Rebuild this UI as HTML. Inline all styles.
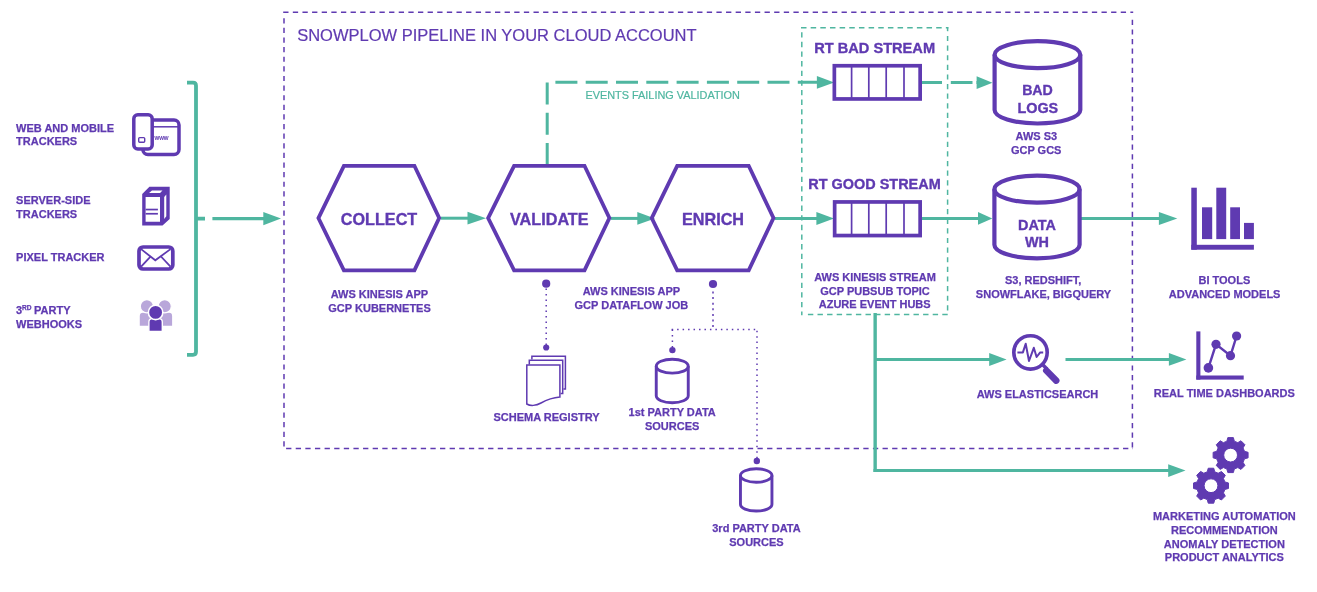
<!DOCTYPE html>
<html><head><meta charset="utf-8"><title>Snowplow pipeline</title>
<style>
html,body{margin:0;padding:0;background:#fff;width:1317px;height:592px;overflow:hidden}
svg{display:block;will-change:transform;font-family:"Liberation Sans",sans-serif}
</style></head><body>
<svg width="1317" height="592" viewBox="0 0 1317 592">
<line x1="283.2" y1="12.2" x2="1133.2" y2="12.2" stroke="#5F3AB1" stroke-width="1.5" stroke-dasharray="5.3 4.327"/>
<line x1="1132.4" y1="19.8" x2="1132.4" y2="449" stroke="#5F3AB1" stroke-width="1.5" stroke-dasharray="5.2 4.400"/>
<line x1="286.1" y1="448.5" x2="1133" y2="448.5" stroke="#5F3AB1" stroke-width="1.5" stroke-dasharray="5.3 4.320"/>
<line x1="284" y1="18.2" x2="284" y2="449" stroke="#5F3AB1" stroke-width="1.5" stroke-dasharray="5.2 4.416"/>
<text x="297.2" y="40.5" font-size="16.5" font-weight="normal" text-anchor="start" fill="#5F3AB1" stroke="#5F3AB1" stroke-width="0.2">SNOWPLOW PIPELINE IN YOUR CLOUD ACCOUNT</text>
<line x1="801" y1="27.8" x2="948.4" y2="27.8" stroke="#4FB6A0" stroke-width="1.5" stroke-dasharray="5.5 4.157"/>
<line x1="947.6" y1="27.2" x2="947.6" y2="31.2" stroke="#4FB6A0" stroke-width="1.5" stroke-dasharray="5 4.000"/>
<line x1="947.6" y1="35.9" x2="947.6" y2="314.5" stroke="#4FB6A0" stroke-width="1.5" stroke-dasharray="5.2 4.420"/>
<line x1="801.8" y1="32.2" x2="801.8" y2="315.2" stroke="#4FB6A0" stroke-width="1.5" stroke-dasharray="5.3 4.332"/>
<line x1="807.9" y1="314.5" x2="948.4" y2="314.5" stroke="#4FB6A0" stroke-width="1.5" stroke-dasharray="5.4 4.200"/>
<text x="16.1" y="131.7" font-size="11" font-weight="bold" text-anchor="start" fill="#5F3AB1" stroke="#5F3AB1" stroke-width="0.25">WEB AND MOBILE</text>
<text x="16.1" y="144.9" font-size="11" font-weight="bold" text-anchor="start" fill="#5F3AB1" stroke="#5F3AB1" stroke-width="0.25">TRACKERS</text>
<text x="16.1" y="203.9" font-size="11" font-weight="bold" text-anchor="start" fill="#5F3AB1" stroke="#5F3AB1" stroke-width="0.25">SERVER-SIDE</text>
<text x="16.1" y="217.5" font-size="11" font-weight="bold" text-anchor="start" fill="#5F3AB1" stroke="#5F3AB1" stroke-width="0.25">TRACKERS</text>
<text x="16.1" y="260.8" font-size="11" font-weight="bold" text-anchor="start" fill="#5F3AB1" stroke="#5F3AB1" stroke-width="0.25">PIXEL TRACKER</text>
<text x="16.1" y="328.3" font-size="11" font-weight="bold" text-anchor="start" fill="#5F3AB1" stroke="#5F3AB1" stroke-width="0.25">WEBHOOKS</text>
<text x="15.9" y="313.9" font-size="11" font-weight="bold" fill="#5F3AB1" stroke="#5F3AB1" stroke-width="0.25">3<tspan font-size="6.6" dy="-4.2">RD</tspan><tspan dy="4.2" dx="-0.6"> PARTY</tspan></text>
<path d="M187,82.7 H193 Q196,82.7 196,85.7 V351.8 Q196,354.8 193,354.8 H187 M196,218.6 H205" fill="none" stroke="#4FB6A0" stroke-width="3.8"/>
<line x1="212.4" y1="218.6" x2="265" y2="218.6" stroke="#4FB6A0" stroke-width="3.3"/>
<polygon points="263.3,211.9 281,218.6 263.3,225.29999999999998" fill="#4FB6A0"/>
<line x1="441" y1="218.2" x2="469" y2="218.2" stroke="#4FB6A0" stroke-width="3"/>
<polygon points="467.5,211.79999999999998 486,218.2 467.5,224.6" fill="#4FB6A0"/>
<line x1="611" y1="218.4" x2="639" y2="218.4" stroke="#4FB6A0" stroke-width="3"/>
<polygon points="637.3,212.0 655,218.4 637.3,224.8" fill="#4FB6A0"/>
<line x1="775" y1="218.5" x2="818" y2="218.5" stroke="#4FB6A0" stroke-width="3"/>
<polygon points="816.4,212.1 834,218.5 816.4,224.9" fill="#4FB6A0"/>
<path d="M547.2,165 V82.3 H818" fill="none" stroke="#4FB6A0" stroke-width="3" stroke-dasharray="22 8.3"/>
<polygon points="816.9,76.0 834.2,82.4 816.9,88.80000000000001" fill="#4FB6A0"/>
<text x="585.4" y="98.6" font-size="10.9" font-weight="normal" text-anchor="start" fill="#4FB6A0" stroke="#4FB6A0" stroke-width="0.2">EVENTS FAILING VALIDATION</text>
<path d="M922,82.5 H978" fill="none" stroke="#4FB6A0" stroke-width="3" stroke-dasharray="20 8.8 21.7 4 30"/>
<polygon points="976.6,76.3 992.5,82.7 976.6,89.10000000000001" fill="#4FB6A0"/>
<line x1="922" y1="218.4" x2="979" y2="218.4" stroke="#4FB6A0" stroke-width="3"/>
<polygon points="978,212.0 992.3,218.4 978,224.8" fill="#4FB6A0"/>
<line x1="1081" y1="218.4" x2="1160" y2="218.4" stroke="#4FB6A0" stroke-width="3"/>
<polygon points="1158.9,212.1 1177.3,218.5 1158.9,224.9" fill="#4FB6A0"/>
<line x1="875.15" y1="313" x2="875.15" y2="472" stroke="#4FB6A0" stroke-width="3.4"/>
<line x1="875" y1="359.5" x2="990" y2="359.5" stroke="#4FB6A0" stroke-width="3"/>
<polygon points="989.2,353.1 1006.6,359.5 989.2,365.9" fill="#4FB6A0"/>
<line x1="1065.5" y1="359.5" x2="1170" y2="359.5" stroke="#4FB6A0" stroke-width="3"/>
<polygon points="1168.9,353.0 1186.4,359.4 1168.9,365.79999999999995" fill="#4FB6A0"/>
<line x1="873.5" y1="470.5" x2="1170" y2="470.5" stroke="#4FB6A0" stroke-width="3"/>
<polygon points="1168.2,464.20000000000005 1185.5,470.6 1168.2,477.0" fill="#4FB6A0"/>
<polygon points="318.42,218.05 343.89,165.80 414.41,165.80 439.18,218.05 414.41,270.30 343.89,270.30" fill="none" stroke="#5F3AB1" stroke-width="3.8" stroke-linejoin="miter"/>
<polygon points="488.12,218.05 514.09,165.80 584.51,165.80 609.38,218.05 584.51,270.30 514.09,270.30" fill="none" stroke="#5F3AB1" stroke-width="3.8" stroke-linejoin="miter"/>
<polygon points="651.72,218.05 677.19,165.80 748.71,165.80 773.48,218.05 748.71,270.30 677.19,270.30" fill="none" stroke="#5F3AB1" stroke-width="3.8" stroke-linejoin="miter"/>
<text x="379.0" y="224.7" font-size="16.2" font-weight="bold" text-anchor="middle" fill="#5F3AB1" stroke="#5F3AB1" stroke-width="0.35">COLLECT</text>
<text x="549.3" y="224.7" font-size="16.2" font-weight="bold" text-anchor="middle" fill="#5F3AB1" stroke="#5F3AB1" stroke-width="0.35">VALIDATE</text>
<text x="713" y="224.7" font-size="16.2" font-weight="bold" text-anchor="middle" fill="#5F3AB1" stroke="#5F3AB1" stroke-width="0.35">ENRICH</text>
<rect x="834.35" y="65.75" width="85.80" height="33.20" fill="#fff" stroke="#5F3AB1" stroke-width="3.7"/>
<line x1="851.6" y1="65.75" x2="851.6" y2="98.95" stroke="#5F3AB1" stroke-width="1.7"/>
<line x1="868.8" y1="65.75" x2="868.8" y2="98.95" stroke="#5F3AB1" stroke-width="1.7"/>
<line x1="886.2" y1="65.75" x2="886.2" y2="98.95" stroke="#5F3AB1" stroke-width="1.7"/>
<line x1="904" y1="65.75" x2="904" y2="98.95" stroke="#5F3AB1" stroke-width="1.7"/>
<rect x="834.65" y="201.95" width="85.50" height="33.60" fill="#fff" stroke="#5F3AB1" stroke-width="3.7"/>
<line x1="851.6" y1="201.95" x2="851.6" y2="235.55" stroke="#5F3AB1" stroke-width="1.7"/>
<line x1="868.8" y1="201.95" x2="868.8" y2="235.55" stroke="#5F3AB1" stroke-width="1.7"/>
<line x1="886.2" y1="201.95" x2="886.2" y2="235.55" stroke="#5F3AB1" stroke-width="1.7"/>
<line x1="904" y1="201.95" x2="904" y2="235.55" stroke="#5F3AB1" stroke-width="1.7"/>
<text x="874.65" y="52.9" font-size="14.6" font-weight="bold" text-anchor="middle" fill="#5F3AB1" stroke="#5F3AB1" stroke-width="0.35">RT BAD STREAM</text>
<text x="874.5" y="188.8" font-size="14.45" font-weight="bold" text-anchor="middle" fill="#5F3AB1" stroke="#5F3AB1" stroke-width="0.35">RT GOOD STREAM</text>
<text x="875" y="281.2" font-size="11" font-weight="bold" text-anchor="middle" fill="#5F3AB1" stroke="#5F3AB1" stroke-width="0.25">AWS KINESIS STREAM</text>
<text x="875" y="294.7" font-size="11" font-weight="bold" text-anchor="middle" fill="#5F3AB1" stroke="#5F3AB1" stroke-width="0.25">GCP PUBSUB TOPIC</text>
<text x="874.7" y="307.7" font-size="11" font-weight="bold" text-anchor="middle" fill="#5F3AB1" stroke="#5F3AB1" stroke-width="0.25">AZURE EVENT HUBS</text>
<ellipse cx="1037.45" cy="54.65" rx="42.85" ry="13.45" fill="none" stroke="#5F3AB1" stroke-width="4.2"/>
<path d="M994.60,54.65 V110.05 A42.85,13.45 0 0 0 1080.30,110.05 V54.65" fill="none" stroke="#5F3AB1" stroke-width="4.2"/>
<ellipse cx="1037.00" cy="189.20" rx="42.60" ry="13.50" fill="none" stroke="#5F3AB1" stroke-width="4.2"/>
<path d="M994.40,189.20 V244.80 A42.60,13.50 0 0 0 1079.60,244.80 V189.20" fill="none" stroke="#5F3AB1" stroke-width="4.2"/>
<text x="1037.5" y="95" font-size="14.2" font-weight="bold" text-anchor="middle" fill="#5F3AB1" stroke="#5F3AB1" stroke-width="0.35">BAD</text>
<text x="1037.8" y="112.6" font-size="14.4" font-weight="bold" text-anchor="middle" fill="#5F3AB1" stroke="#5F3AB1" stroke-width="0.35">LOGS</text>
<text x="1036.35" y="140" font-size="11" font-weight="bold" text-anchor="middle" fill="#5F3AB1" stroke="#5F3AB1" stroke-width="0.25">AWS S3</text>
<text x="1036.15" y="153.7" font-size="11" font-weight="bold" text-anchor="middle" fill="#5F3AB1" stroke="#5F3AB1" stroke-width="0.25">GCP GCS</text>
<text x="1037" y="229.9" font-size="14.4" font-weight="bold" text-anchor="middle" fill="#5F3AB1" stroke="#5F3AB1" stroke-width="0.35">DATA</text>
<text x="1037" y="247.1" font-size="14.4" font-weight="bold" text-anchor="middle" fill="#5F3AB1" stroke="#5F3AB1" stroke-width="0.35">WH</text>
<text x="1043.15" y="284.3" font-size="11" font-weight="bold" text-anchor="middle" fill="#5F3AB1" stroke="#5F3AB1" stroke-width="0.25">S3, REDSHIFT,</text>
<text x="1043.5" y="298" font-size="11" font-weight="bold" text-anchor="middle" fill="#5F3AB1" stroke="#5F3AB1" stroke-width="0.25">SNOWFLAKE, BIGQUERY</text>
<text x="379.45" y="297.8" font-size="11" font-weight="bold" text-anchor="middle" fill="#5F3AB1" stroke="#5F3AB1" stroke-width="0.25">AWS KINESIS APP</text>
<text x="379.55" y="311.9" font-size="11" font-weight="bold" text-anchor="middle" fill="#5F3AB1" stroke="#5F3AB1" stroke-width="0.25">GCP KUBERNETES</text>
<text x="631.4" y="295.2" font-size="11" font-weight="bold" text-anchor="middle" fill="#5F3AB1" stroke="#5F3AB1" stroke-width="0.25">AWS KINESIS APP</text>
<text x="631.4" y="309.2" font-size="11" font-weight="bold" text-anchor="middle" fill="#5F3AB1" stroke="#5F3AB1" stroke-width="0.25">GCP DATAFLOW JOB</text>
<circle cx="546.2" cy="283.7" r="4.1" fill="#5F3AB1"/>
<line x1="546.2" y1="288.4" x2="546.2" y2="346" stroke="#5F3AB1" stroke-width="1.5" stroke-dasharray="1.6 3.9"/>
<circle cx="546.2" cy="347.5" r="3.1" fill="#5F3AB1"/>
<circle cx="713" cy="284" r="4.1" fill="#5F3AB1"/>
<path d="M713,291.5 V329.6" fill="none" stroke="#5F3AB1" stroke-width="1.5" stroke-dasharray="2 3.6"/>
<path d="M671.65,329.6 H757" fill="none" stroke="#5F3AB1" stroke-width="1.5" stroke-dasharray="1.5 3.97"/>
<path d="M757,330.65 V458" fill="none" stroke="#5F3AB1" stroke-width="1.5" stroke-dasharray="1.5 3.98"/>
<path d="M672.4,329.6 V348" fill="none" stroke="#5F3AB1" stroke-width="1.5" stroke-dasharray="1.5 4"/>
<circle cx="672.4" cy="350.1" r="3.2" fill="#5F3AB1"/>
<circle cx="756.8" cy="461" r="3.2" fill="#5F3AB1"/>
<g fill="#fff" stroke="#5F3AB1" stroke-width="1.5"><path d="M531.9,359.6 V356.3 H565.4 V388.9 H563.4"/><path d="M529.3,364.4 V360.3 H562.7 V393.4 H560.6"/><path d="M526.8,404 V365.1 H559.9 V397 C553,397.5 548,399 541,403 C536,406 530,406 526.8,404 Z"/></g>
<text x="546.5" y="421.2" font-size="11" font-weight="bold" text-anchor="middle" fill="#5F3AB1" stroke="#5F3AB1" stroke-width="0.25">SCHEMA REGISTRY</text>
<ellipse cx="672.25" cy="366.20" rx="16.00" ry="6.95" fill="none" stroke="#5F3AB1" stroke-width="2.9"/>
<path d="M656.25,366.20 V395.80 A16.00,6.95 0 0 0 688.25,395.80 V366.20" fill="none" stroke="#5F3AB1" stroke-width="2.9"/>
<text x="672.15" y="415.5" font-size="11" font-weight="bold" text-anchor="middle" fill="#5F3AB1" stroke="#5F3AB1" stroke-width="0.25">1st PARTY DATA</text>
<text x="672.15" y="430.3" font-size="11" font-weight="bold" text-anchor="middle" fill="#5F3AB1" stroke="#5F3AB1" stroke-width="0.25">SOURCES</text>
<ellipse cx="756.20" cy="475.50" rx="15.75" ry="6.75" fill="none" stroke="#5F3AB1" stroke-width="2.9"/>
<path d="M740.45,475.50 V504.30 A15.75,6.75 0 0 0 771.95,504.30 V475.50" fill="none" stroke="#5F3AB1" stroke-width="2.9"/>
<text x="756.45" y="532" font-size="11" font-weight="bold" text-anchor="middle" fill="#5F3AB1" stroke="#5F3AB1" stroke-width="0.25">3rd PARTY DATA</text>
<text x="756.45" y="546.2" font-size="11" font-weight="bold" text-anchor="middle" fill="#5F3AB1" stroke="#5F3AB1" stroke-width="0.25">SOURCES</text>
<circle cx="1030.5" cy="352.4" r="16.7" fill="none" stroke="#5F3AB1" stroke-width="3.6"/>
<line x1="1042" y1="364" x2="1047" y2="369" stroke="#5F3AB1" stroke-width="3.6"/>
<line x1="1046.3" y1="370.5" x2="1056.2" y2="380.6" stroke="#5F3AB1" stroke-width="6.6" stroke-linecap="round"/>
<polyline points="1017.4,352.4 1022.9,352.4 1025.7,343.7 1029,361 1033.8,347.8 1036.6,357 1040.2,352.4 1043.2,352.4" fill="none" stroke="#5F3AB1" stroke-width="2" stroke-linejoin="round"/>
<text x="1037.5" y="397.6" font-size="11" font-weight="bold" text-anchor="middle" fill="#5F3AB1" stroke="#5F3AB1" stroke-width="0.25">AWS ELASTICSEARCH</text>
<g fill="#5F3AB1"><rect x="1191.3" y="187.7" width="5.5" height="62"/><rect x="1191.3" y="244.8" width="62.6" height="4.9"/><rect x="1202" y="207.3" width="10.2" height="31.8"/><rect x="1216.3" y="187.7" width="9.9" height="51.4"/><rect x="1230.2" y="207.3" width="9.8" height="31.8"/><rect x="1244" y="222.9" width="9.9" height="16.2"/></g>
<text x="1224.35" y="283.7" font-size="11" font-weight="bold" text-anchor="middle" fill="#5F3AB1" stroke="#5F3AB1" stroke-width="0.25">BI TOOLS</text>
<text x="1224.65" y="297.6" font-size="11" font-weight="bold" text-anchor="middle" fill="#5F3AB1" stroke="#5F3AB1" stroke-width="0.25">ADVANCED MODELS</text>
<g fill="#5F3AB1"><rect x="1196.3" y="331.4" width="4.1" height="48.2"/><rect x="1196.3" y="375.5" width="47.4" height="4.1"/><circle cx="1208.4" cy="367.9" r="4.8"/><circle cx="1216" cy="344.3" r="4.6"/><circle cx="1230.5" cy="355.7" r="4.6"/><circle cx="1236.6" cy="336" r="4.6"/></g>
<polyline points="1208.4,367.9 1216,344.3 1230.5,355.7 1236.6,336" fill="none" stroke="#5F3AB1" stroke-width="2.4"/>
<text x="1224.35" y="396.8" font-size="11" font-weight="bold" text-anchor="middle" fill="#5F3AB1" stroke="#5F3AB1" stroke-width="0.25">REAL TIME DASHBOARDS</text>
<path d="M1207.27,471.79 L1208.23,468.22 L1213.77,468.22 L1214.73,471.79 L1218.20,473.23 L1221.40,471.38 L1225.32,475.30 L1223.47,478.50 L1224.91,481.97 L1228.48,482.93 L1228.48,488.47 L1224.91,489.43 L1223.47,492.90 L1225.32,496.10 L1221.40,500.02 L1218.20,498.17 L1214.73,499.61 L1213.77,503.18 L1208.23,503.18 L1207.27,499.61 L1203.80,498.17 L1200.60,500.02 L1196.68,496.10 L1198.53,492.90 L1197.09,489.43 L1193.52,488.47 L1193.52,482.93 L1197.09,481.97 L1198.53,478.50 L1196.68,475.30 L1200.60,471.38 L1203.80,473.23 Z M1217.90,485.70 A6.9,6.9 0 1 0 1204.10,485.70 A6.9,6.9 0 1 0 1217.90,485.70 Z" fill="#5F3AB1" fill-rule="evenodd" stroke="#5F3AB1" stroke-width="1" stroke-linejoin="round"/>
<path d="M1226.87,441.19 L1227.83,437.62 L1233.37,437.62 L1234.33,441.19 L1237.80,442.63 L1241.00,440.78 L1244.92,444.70 L1243.07,447.90 L1244.51,451.37 L1248.08,452.33 L1248.08,457.87 L1244.51,458.83 L1243.07,462.30 L1244.92,465.50 L1241.00,469.42 L1237.80,467.57 L1234.33,469.01 L1233.37,472.58 L1227.83,472.58 L1226.87,469.01 L1223.40,467.57 L1220.20,469.42 L1216.28,465.50 L1218.13,462.30 L1216.69,458.83 L1213.12,457.87 L1213.12,452.33 L1216.69,451.37 L1218.13,447.90 L1216.28,444.70 L1220.20,440.78 L1223.40,442.63 Z M1237.50,455.10 A6.9,6.9 0 1 0 1223.70,455.10 A6.9,6.9 0 1 0 1237.50,455.10 Z" fill="#fff" stroke="#fff" stroke-width="3.5" stroke-linejoin="round"/>
<path d="M1226.87,441.19 L1227.83,437.62 L1233.37,437.62 L1234.33,441.19 L1237.80,442.63 L1241.00,440.78 L1244.92,444.70 L1243.07,447.90 L1244.51,451.37 L1248.08,452.33 L1248.08,457.87 L1244.51,458.83 L1243.07,462.30 L1244.92,465.50 L1241.00,469.42 L1237.80,467.57 L1234.33,469.01 L1233.37,472.58 L1227.83,472.58 L1226.87,469.01 L1223.40,467.57 L1220.20,469.42 L1216.28,465.50 L1218.13,462.30 L1216.69,458.83 L1213.12,457.87 L1213.12,452.33 L1216.69,451.37 L1218.13,447.90 L1216.28,444.70 L1220.20,440.78 L1223.40,442.63 Z M1237.50,455.10 A6.9,6.9 0 1 0 1223.70,455.10 A6.9,6.9 0 1 0 1237.50,455.10 Z" fill="#5F3AB1" fill-rule="evenodd" stroke="#5F3AB1" stroke-width="1" stroke-linejoin="round"/>
<text x="1224.35" y="520" font-size="11" font-weight="bold" text-anchor="middle" fill="#5F3AB1" stroke="#5F3AB1" stroke-width="0.25">MARKETING AUTOMATION</text>
<text x="1224.35" y="533.9" font-size="11" font-weight="bold" text-anchor="middle" fill="#5F3AB1" stroke="#5F3AB1" stroke-width="0.25">RECOMMENDATION</text>
<text x="1224.35" y="547.5" font-size="11" font-weight="bold" text-anchor="middle" fill="#5F3AB1" stroke="#5F3AB1" stroke-width="0.25">ANOMALY DETECTION</text>
<text x="1224.35" y="560.9" font-size="11" font-weight="bold" text-anchor="middle" fill="#5F3AB1" stroke="#5F3AB1" stroke-width="0.25">PRODUCT ANALYTICS</text>
<g fill="none" stroke="#5F3AB1"><rect x="142.9" y="120" width="36.1" height="34.4" rx="5" stroke-width="3.5"/><line x1="152" y1="126.8" x2="178" y2="126.8" stroke-width="1.5"/></g>
<rect x="133.8" y="114.8" width="18.4" height="34.1" rx="4" fill="#fff" stroke="#5F3AB1" stroke-width="3.5"/>
<rect x="138.7" y="137.6" width="6" height="4.6" rx="1" fill="none" stroke="#5F3AB1" stroke-width="1.4"/>
<text x="161.5" y="139.7" font-size="6.5" text-anchor="middle" fill="#5F3AB1" stroke="#5F3AB1" stroke-width="0.2">www</text>
<path d="M142.2,193.9 L149.4,186.8 H169.7 V218.9 L162.5,225.6 H142.2 Z M145.6,196.9 V221.8 H160 V196.9 Z M149,193.1 L152,190.6 H162.5 L160,193.1 Z M164.2,196.9 L166.3,194.4 V216.3 L164.2,218.9 Z" fill="#5F3AB1" fill-rule="evenodd"/>
<rect x="145.6" y="208.7" width="12.3" height="1.7" fill="#5F3AB1"/><rect x="145.6" y="212.9" width="12.3" height="1.7" fill="#5F3AB1"/>
<rect x="139" y="247" width="33.8" height="22" rx="4" fill="none" stroke="#5F3AB1" stroke-width="3.7"/>
<polyline points="141.1,249.1 155.3,260.3 170.5,249.1" fill="none" stroke="#5F3AB1" stroke-width="1.8"/>
<line x1="141.1" y1="266.6" x2="150.5" y2="256.7" stroke="#5F3AB1" stroke-width="1.8"/>
<line x1="161" y1="256.5" x2="170.5" y2="266.6" stroke="#5F3AB1" stroke-width="1.8"/>
<g fill="#B9A7DA"><path d="M139.8,325.8 V316 Q139.8,312.8 143,312.8 H151 V325.8 Z"/><path d="M160,325.8 V312.8 H169 Q172.1,312.8 172.1,316 V325.8 Z"/></g>
<g fill="#B9A7DA" stroke="#fff" stroke-width="1.2"><circle cx="146.9" cy="306.3" r="6.6"/><circle cx="164.7" cy="306.3" r="6.6"/></g>
<path d="M148.9,331.5 V322 Q148.9,318.6 152.3,318.6 H158.9 Q162.3,318.6 162.3,322 V331.5 Z" fill="#5F3AB1" stroke="#fff" stroke-width="1.4"/>
<circle cx="155.6" cy="312.4" r="7.2" fill="#5F3AB1" stroke="#fff" stroke-width="1.6"/>
</svg>
</body></html>
